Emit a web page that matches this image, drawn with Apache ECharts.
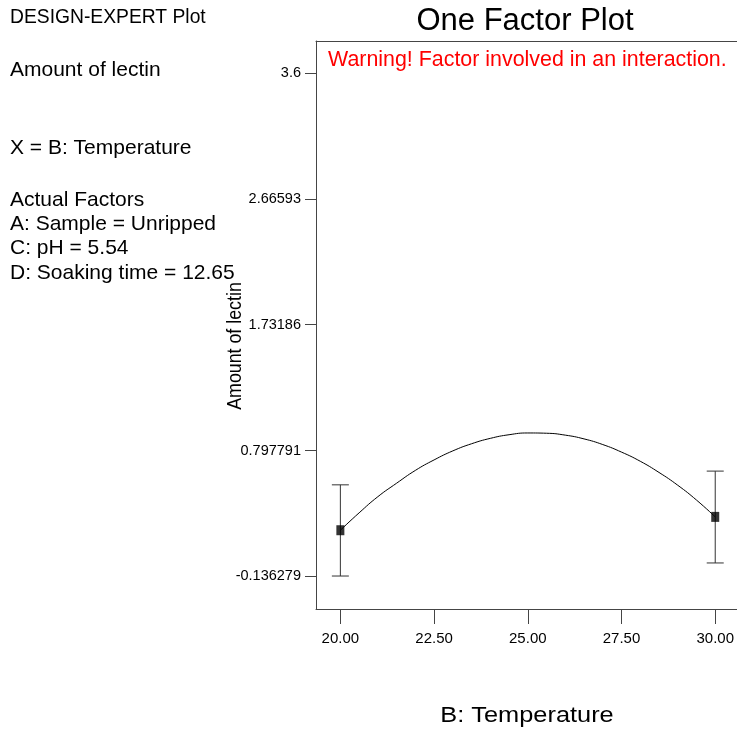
<!DOCTYPE html>
<html>
<head>
<meta charset="utf-8">
<title>One Factor Plot</title>
<script src="https://cdn.jsdelivr.net/npm/echarts@6/dist/echarts.min.js"></script>
<style>
  html, body { margin: 0; padding: 0; background: #ffffff; }
  #chart { width: 737px; height: 732px; }
</style>
</head>
<body>
<div id="chart"></div>
<script>
// Predicted response along B: Temperature
const curveX = [20, 20.5, 21, 21.5, 22, 22.5, 23, 23.5, 24, 24.5, 25, 25.5, 26, 26.5, 27, 27.5, 28, 28.5, 29, 29.5, 30];
const curveY = [0.206, 0.335, 0.455, 0.555, 0.65, 0.728, 0.795, 0.848, 0.888, 0.915, 0.928, 0.926, 0.912, 0.884, 0.842, 0.786, 0.718, 0.635, 0.54, 0.43, 0.305];

// Design points with their confidence intervals
const pointX = [20, 30];
const pointY = [0.206, 0.305];
const barLow = [-0.134, -0.037];
const barHigh = [0.543, 0.645];

// Axis ticks and their labels
const xTicks = [20, 22.5, 25, 27.5, 30];
const xTickLabels = ['20.00', '22.50', '25.00', '27.50', '30.00'];
const yTicks = [-0.136279, 0.797791, 1.73186, 2.66593, 3.6];
const yTickLabels = ['-0.136279', '0.797791', '1.73186', '2.66593', '3.6'];

// Annotation lines on the left side
const infoLines = [
  { text: 'DESIGN-EXPERT Plot', y: 18, size: 19.3 },
  { text: 'Amount of lectin', y: 70, size: 21 },
  { text: 'X = B: Temperature', y: 148, size: 21 },
  { text: 'Actual Factors', y: 200, size: 21 },
  { text: 'A: Sample = Unripped', y: 224, size: 21 },
  { text: 'C: pH = 5.54', y: 248, size: 21 },
  { text: 'D: Soaking time = 12.65', y: 273, size: 21 }
];

const FONT = '"Liberation Sans", Arial, sans-serif';
const AXIS_COLOR = '#454545';

function labelFor(ticks, labels, v) {
  let best = 0;
  for (let i = 1; i < ticks.length; i++) {
    if (Math.abs(ticks[i] - v) < Math.abs(ticks[best] - v)) best = i;
  }
  return labels[best];
}

const chart = echarts.init(document.getElementById('chart'), null, { renderer: 'canvas' });

const graphicTexts = infoLines.map(l => ({
  type: 'text',
  x: 10,
  y: l.y,
  style: {
    text: l.text,
    fill: '#000',
    font: l.size + 'px ' + FONT,
    verticalAlign: 'middle',
    align: 'left'
  }
}));

// Chart title
graphicTexts.push({
  type: 'text',
  x: 525,
  y: 21,
  style: {
    text: 'One Factor Plot',
    fill: '#000',
    font: '31px ' + FONT,
    verticalAlign: 'middle',
    align: 'center'
  }
});

graphicTexts.push({
  type: 'text',
  x: 328,
  y: 60,
  style: {
    text: 'Warning! Factor involved in an interaction.',
    fill: '#ff0000',
    font: '21.4px ' + FONT,
    verticalAlign: 'middle',
    align: 'left'
  }
});

// Y axis title (condensed)
graphicTexts.push({
  type: 'text',
  x: 235,
  y: 346,
  rotation: Math.PI / 2,
  scaleX: 0.89,
  style: {
    text: 'Amount of lectin',
    fill: '#000',
    font: '20px ' + FONT,
    verticalAlign: 'middle',
    align: 'center'
  }
});

// X axis title (spread)
graphicTexts.push({
  type: 'text',
  x: 527,
  y: 716,
  scaleX: 1.18,
  style: {
    text: 'B: Temperature',
    fill: '#000',
    font: '21.5px ' + FONT,
    verticalAlign: 'middle',
    align: 'center'
  }
});

const option = {
  backgroundColor: '#ffffff',
  animation: false,
  grid: { left: 316, top: 41, right: 0, bottom: 123, containLabel: false },
  xAxis: [
    {
      type: 'value',
      position: 'bottom',
      min: 19.35,
      max: 30.58,
      axisLine: { show: true, onZero: false, lineStyle: { color: AXIS_COLOR, width: 1 } },
      axisTick: { show: true, customValues: xTicks, length: 15, lineStyle: { color: AXIS_COLOR } },
      axisLabel: {
        customValues: xTicks,
        margin: 22,
        color: '#000',
        fontFamily: FONT,
        fontSize: 15,
        formatter: v => labelFor(xTicks, xTickLabels, v)
      },
      splitLine: { show: false }
    },
    {
      type: 'value',
      position: 'top',
      min: 19.35,
      max: 30.58,
      axisLine: { show: true, onZero: false, lineStyle: { color: AXIS_COLOR, width: 1 } },
      axisTick: { show: false },
      axisLabel: { show: false },
      splitLine: { show: false }
    }
  ],
  yAxis: {
    type: 'value',
    min: -0.3788,
    max: 3.838,
    axisLine: { show: true, onZero: false, lineStyle: { color: AXIS_COLOR, width: 1 } },
    axisTick: { show: true, customValues: yTicks, length: 11, lineStyle: { color: AXIS_COLOR } },
    axisLabel: {
      customValues: yTicks,
      margin: 15,
      color: '#000',
      fontFamily: FONT,
      fontSize: 14.5,
      formatter: v => labelFor(yTicks, yTickLabels, v)
    },
    splitLine: { show: false }
  },
  graphic: graphicTexts,
  series: [
    {
      type: 'line',
      data: curveX.map((x, i) => [x, curveY[i]]),
      smooth: true,
      showSymbol: false,
      lineStyle: { color: '#000', width: 1 },
      z: 2
    },
    {
      type: 'custom',
      data: pointX.map((x, i) => [x, barLow[i], barHigh[i]]),
      renderItem: function (params, api) {
        const lo = api.coord([api.value(0), api.value(1)]);
        const hi = api.coord([api.value(0), api.value(2)]);
        const half = 8.5;
        const style = { stroke: '#333', lineWidth: 1 };
        return {
          type: 'group',
          children: [
            { type: 'line', shape: { x1: lo[0], y1: lo[1], x2: hi[0], y2: hi[1] }, style },
            { type: 'line', shape: { x1: lo[0] - half, y1: lo[1], x2: lo[0] + half, y2: lo[1] }, style },
            { type: 'line', shape: { x1: hi[0] - half, y1: hi[1], x2: hi[0] + half, y2: hi[1] }, style }
          ]
        };
      },
      z: 3
    },
    {
      type: 'scatter',
      data: pointX.map((x, i) => [x, pointY[i]]),
      symbol: 'rect',
      symbolSize: [8, 10],
      itemStyle: { color: '#000' },
      z: 4
    }
  ]
};

chart.setOption(option);
</script>
</body>
</html>
